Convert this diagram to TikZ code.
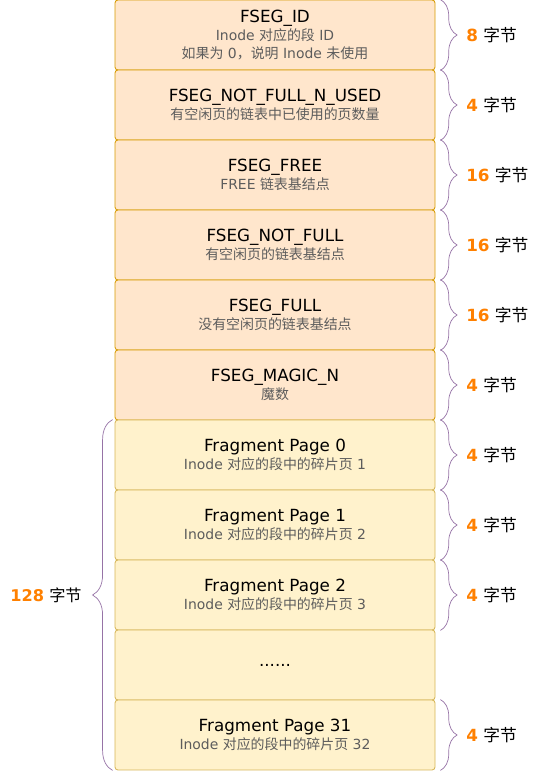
\documentclass[tikz,border=0pt]{standalone}
\usepackage{fontspec}
\setmainfont{DejaVu Sans}
\newfontfamily\cjk{Noto Sans CJK SC}
\usepackage{xcolor}
\usepackage{tikz}
\usetikzlibrary{decorations.pathreplacing}
\usetikzlibrary{positioning}
\definecolor{headfill}{HTML}{FFE6CC}
\definecolor{headline}{HTML}{D79B00}
\definecolor{fragfill}{HTML}{FFF2CC}
\definecolor{fragline}{HTML}{D6B656}
\definecolor{bracecol}{HTML}{9673A6}
\definecolor{numcol}{HTML}{FF8000}
\definecolor{subcol}{HTML}{5C5C5C}
\newcommand{\zh}[1]{{\cjk #1}}
\newcommand{\subtxt}[1]{{\color{subcol}\fontsize{11.9}{14}\selectfont #1}}
\newcommand{\bytes}[1]{{\color{numcol}\bfseries #1}~\zh{字节}}
\tikzset{
	headbox/.style={rectangle, draw=headline, fill=headfill, line width=0.7pt, rounded corners=2.5pt, minimum width=9.6cm, minimum height=2.1cm, align=center, font=\fontsize{14.3}{15}\selectfont},
	fragbox/.style={headbox, draw=fragline, fill=fragfill}
}
\tikzset{
	sizebrace/.style={draw=bracecol, line width=0.6pt, decorate, decoration={brace, amplitude=0.5cm}},
	sizelabel/.style={anchor=west, xshift=0.65cm, font=\fontsize{14.3}{16}\selectfont}
}

\begin{document}
\begin{tikzpicture}
		\useasboundingbox (0,0) rectangle (16.23,23.4);
		
		\node[headbox] at (8.25,22.35) (id)     {FSEG\_ID\\ \subtxt{Inode \zh{对应的段} ID}\\ \subtxt{\zh{如果为} 0\zh{，说明} Inode \zh{未使用}}};
		\node[headbox] at (8.25,20.25) (used)   {FSEG\_NOT\_FULL\_N\_USED\\ \subtxt{\zh{有空闲页的链表中已使用的页数量}}};
		\node[headbox] at (8.25,18.15) (free)   {FSEG\_FREE\\ \subtxt{FREE \zh{链表基结点}}};
		\node[headbox] at (8.25,16.05) (notfull) {FSEG\_NOT\_FULL\\ \subtxt{\zh{有空闲页的链表基结点}}};
		\node[headbox] at (8.25,13.95) (full)   {FSEG\_FULL\\ \subtxt{\zh{没有空闲页的链表基结点}}};
		\node[headbox] at (8.25,11.85) (magic)  {FSEG\_MAGIC\_N\\ \subtxt{\zh{魔数}}};
		
		\node[fragbox] at (8.25,9.75) (fp0)    {Fragment Page 0\\ \subtxt{Inode \zh{对应的段中的碎片页} 1}};
		\node[fragbox] at (8.25,7.65) (fp1)    {Fragment Page 1\\ \subtxt{Inode \zh{对应的段中的碎片页} 2}};
		\node[fragbox] at (8.25,5.55) (fp2)    {Fragment Page 2\\ \subtxt{Inode \zh{对应的段中的碎片页} 3}};
		\node[fragbox] at (8.25,3.45) (dots)   {......};
		\node[fragbox] at (8.25,1.35) (fp31)   {Fragment Page 31\\ \subtxt{Inode \zh{对应的段中的碎片页} 32}};
		
		%Braces
		
		\draw[sizebrace] ([xshift=0.15cm]id.north east) -- ([xshift=0.15cm]id.south east) node[sizelabel, midway] (idsize) {\bytes{8}};
		\draw[sizebrace] ([xshift=0.15cm]used.north east) -- ([xshift=0.15cm]used.south east) node[sizelabel, midway] (usedsize) {\bytes{4}};
		\draw[sizebrace] ([xshift=0.15cm]free.north east) -- ([xshift=0.15cm]free.south east) node[sizelabel, midway] (freesize) {\bytes{16}};
		\draw[sizebrace] ([xshift=0.15cm]notfull.north east) -- ([xshift=0.15cm]notfull.south east) node[sizelabel, midway] (notfullsize) {\bytes{16}};
		\draw[sizebrace] ([xshift=0.15cm]full.north east) -- ([xshift=0.15cm]full.south east) node[sizelabel, midway] (fullsize) {\bytes{16}};
		\draw[sizebrace] ([xshift=0.15cm]magic.north east) -- ([xshift=0.15cm]magic.south east) node[sizelabel, midway] (magicsize) {\bytes{4}};
		\draw[sizebrace] ([xshift=0.15cm]fp0.north east) -- ([xshift=0.15cm]fp0.south east) node[sizelabel, midway] (fp0size) {\bytes{4}};
		\draw[sizebrace] ([xshift=0.15cm]fp1.north east) -- ([xshift=0.15cm]fp1.south east) node[sizelabel, midway] (fp1size) {\bytes{4}};
		\draw[sizebrace] ([xshift=0.15cm]fp2.north east) -- ([xshift=0.15cm]fp2.south east) node[sizelabel, midway] (fp2size) {\bytes{4}};
		\draw[sizebrace] ([xshift=0.15cm]fp31.north east) -- ([xshift=0.15cm]fp31.south east) node[sizelabel, midway] (fp31size) {\bytes{4}};
		
		\draw[sizebrace, decoration={brace, amplitude=0.6cm}] ([xshift=-0.06cm]fp31.south west) -- ([xshift=-0.06cm]fp0.north west) node[midway, anchor=east, xshift=-0.8cm, font=\fontsize{13.8}{16}\selectfont] (fragsize) {\bytes{128}};
		
	\end{tikzpicture}
\end{document}
